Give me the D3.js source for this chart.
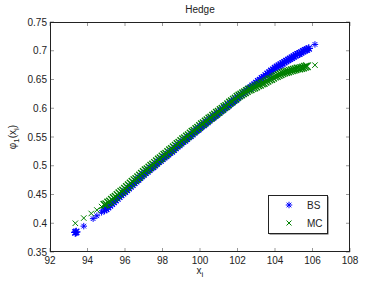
<!DOCTYPE html>
<html><head><meta charset="utf-8">
<script src="https://cdn.jsdelivr.net/npm/d3@7"></script>
<style>body{margin:0;background:#fff}svg{display:block}text{font-family:"Liberation Sans",Arial,Helvetica,sans-serif;fill:#222}</style>
</head><body><svg id="c" width="387" height="284"></svg>
<script>
const xTicks = [92,94,96,98,100,102,104,106,108];
const yTicks = [0.35,0.4,0.45,0.5,0.55,0.6,0.65,0.7,0.75];
const bsX = [93.35,93.4,93.8,94.3,94.5,94.75,94.9,
95.0,95.1,95.2,95.3,95.4,95.5,95.6,95.7,95.8,95.9,
96.0,96.1,96.2,96.3,96.4,96.5,96.6,96.7,96.8,96.9,
97.0,97.1,97.2,97.3,97.4,97.5,97.6,97.7,97.8,97.9,
98.0,98.1,98.2,98.3,98.4,98.5,98.6,98.7,98.8,98.9,
99.0,99.1,99.2,99.3,99.4,99.5,99.6,99.7,99.8,99.9,
100.0,100.1,100.2,100.3,100.4,100.5,100.6,100.7,100.8,100.9,
101.0,101.1,101.2,101.3,101.4,101.5,101.6,101.7,101.8,101.9,
102.0,102.1,102.2,102.3,102.4,102.5,102.6,102.7,102.8,102.9,
103.0,103.1,103.2,103.3,103.4,103.5,103.6,103.7,103.8,103.9,
104.0,104.1,104.2,104.3,104.4,104.5,104.6,104.7,104.8,104.9,
105.0,105.1,105.2,105.3,105.4,105.5,105.6,105.7,105.8,
106.13];
const bsY = [0.384,0.385,0.395,0.408,0.413,0.419,0.423,
0.425,0.428,0.431,0.434,0.437,0.440,0.443,0.446,0.449,0.452,
0.455,0.458,0.461,0.464,0.467,0.470,0.473,0.476,0.479,0.482,
0.485,0.488,0.490,0.493,0.496,0.498,0.501,0.504,0.507,0.509,
0.512,0.515,0.517,0.520,0.523,0.525,0.528,0.531,0.534,0.536,
0.539,0.542,0.544,0.547,0.550,0.552,0.555,0.558,0.561,0.563,
0.566,0.569,0.571,0.574,0.576,0.579,0.582,0.584,0.587,0.589,
0.592,0.595,0.597,0.600,0.602,0.605,0.608,0.610,0.613,0.615,
0.618,0.621,0.623,0.626,0.628,0.631,0.634,0.636,0.639,0.641,
0.644,0.647,0.649,0.652,0.654,0.657,0.660,0.662,0.665,0.667,
0.670,0.672,0.674,0.676,0.678,0.680,0.682,0.684,0.686,0.688,
0.690,0.692,0.694,0.695,0.697,0.699,0.701,0.702,0.704,
0.711];
const mcX = [93.35,93.8,94.2,94.5,94.75,94.9,
95.0,95.1,95.2,95.3,95.4,95.5,95.6,95.7,95.8,95.9,
96.0,96.1,96.2,96.3,96.4,96.5,96.6,96.7,96.8,96.9,
97.0,97.1,97.2,97.3,97.4,97.5,97.6,97.7,97.8,97.9,
98.0,98.1,98.2,98.3,98.4,98.5,98.6,98.7,98.8,98.9,
99.0,99.1,99.2,99.3,99.4,99.5,99.6,99.7,99.8,99.9,
100.0,100.1,100.2,100.3,100.4,100.5,100.6,100.7,100.8,100.9,
101.0,101.1,101.2,101.3,101.4,101.5,101.6,101.7,101.8,101.9,
102.0,102.1,102.2,102.3,102.4,102.5,102.6,102.7,102.8,102.9,
103.0,103.1,103.2,103.3,103.4,103.5,103.6,103.7,103.8,103.9,
104.0,104.1,104.2,104.3,104.4,104.5,104.6,104.7,104.8,104.9,
105.0,105.1,105.2,105.3,105.4,105.5,105.6,105.7,
106.13];
const mcY = [0.400,0.409,0.417,0.423,0.429,0.432,
0.433,0.436,0.438,0.441,0.444,0.446,0.449,0.452,0.455,0.457,
0.460,0.463,0.466,0.469,0.472,0.475,0.477,0.480,0.483,0.486,
0.489,0.492,0.494,0.497,0.500,0.502,0.505,0.508,0.511,0.513,
0.516,0.519,0.521,0.524,0.527,0.529,0.532,0.535,0.538,0.540,
0.543,0.546,0.548,0.551,0.553,0.556,0.559,0.561,0.564,0.566,
0.569,0.572,0.574,0.577,0.579,0.582,0.584,0.587,0.589,0.592,
0.594,0.597,0.599,0.602,0.604,0.607,0.610,0.612,0.615,0.617,
0.620,0.622,0.624,0.626,0.628,0.630,0.632,0.633,0.635,0.636,
0.638,0.640,0.641,0.643,0.644,0.646,0.648,0.650,0.651,0.653,
0.655,0.656,0.658,0.659,0.661,0.662,0.663,0.664,0.665,0.666,
0.667,0.668,0.669,0.669,0.670,0.671,0.672,0.673,
0.675];
const seriesNames = ["BS","MC"];
const seriesColors = ["#0000ff","#008000"];

const svg = d3.select("#c");
const L=50,R=350,T=22,B=252;
const x = d3.scaleLinear().domain([92,108]).range([L,R]);
const y = d3.scaleLinear().domain([0.35,0.75]).range([B,T]);

function star(g,cx,cy,s,col,w){
  const p = d3.path();
  const r=s/2;
  p.moveTo(cx-r,cy);p.lineTo(cx+r,cy);
  p.moveTo(cx,cy-r);p.lineTo(cx,cy+r);
  const d=r*0.72;
  p.moveTo(cx-d,cy-d);p.lineTo(cx+d,cy+d);
  p.moveTo(cx-d,cy+d);p.lineTo(cx+d,cy-d);
  g.append("path").attr("d",p.toString()).attr("stroke",col).attr("stroke-width",w).attr("fill","none");
}
function cross(g,cx,cy,s,col,w){
  const p=d3.path();const r=s/2;
  p.moveTo(cx-r,cy-r);p.lineTo(cx+r,cy+r);
  p.moveTo(cx-r,cy+r);p.lineTo(cx+r,cy-r);
  g.append("path").attr("d",p.toString()).attr("stroke",col).attr("stroke-width",w).attr("fill","none");
}
// marker size: isolated samples drawn smaller, dense ones overlap into a band
function isDense(arr,i){
  const gl = i>0 ? arr[i]-arr[i-1] : 9, gr = i<arr.length-1 ? arr[i+1]-arr[i] : 9;
  return Math.min(gl,gr) < 0.12;
}

const plot = svg.append("g");
bsX.forEach((v,i)=>{const dn=isDense(bsX,i); star(plot,x(v),y(bsY[i]),dn?8.5:6.5,seriesColors[0],dn?1.3:1);});
mcX.forEach((v,i)=>{const dn=isDense(mcX,i); cross(plot,x(v),y(mcY[i]),dn?7.5:5.5,seriesColors[1],dn?1.4:1);});

// axes
const ax = svg.append("g");
const tk = 4;
xTicks.forEach(t=>{
  ax.append("line").attr("x1",x(t)).attr("x2",x(t)).attr("y1",B).attr("y2",B-tk).attr("stroke","#999");
  ax.append("line").attr("x1",x(t)).attr("x2",x(t)).attr("y1",T).attr("y2",T+tk).attr("stroke","#999");
  ax.append("text").attr("x",x(t)).attr("y",B+12).attr("text-anchor","middle").attr("font-size",10).text(d3.format("d")(t));
});
yTicks.forEach(t=>{
  ax.append("line").attr("x1",L).attr("x2",L+tk).attr("y1",y(t)).attr("y2",y(t)).attr("stroke","#999");
  ax.append("line").attr("x1",R).attr("x2",R-tk).attr("y1",y(t)).attr("y2",y(t)).attr("stroke","#999");
  ax.append("text").attr("x",L-3).attr("y",y(t)+3.5).attr("text-anchor","end").attr("font-size",10).text(d3.format("")(t));
});
ax.append("rect").attr("x",L+0.5).attr("y",T+0.5).attr("width",R-L-1).attr("height",B-T-1).attr("fill","none").attr("stroke","#222");

svg.append("text").attr("x",200).attr("y",13).attr("text-anchor","middle").attr("font-size",10).text("Hedge");
const xl = svg.append("text").attr("x",200).attr("y",274).attr("text-anchor","middle").attr("font-size",10);
xl.append("tspan").text("x");
xl.append("tspan").attr("dy",3).attr("font-size",8).text("i");
const yl = svg.append("text").attr("transform","translate(16,137) rotate(-90)").attr("text-anchor","middle").attr("font-size",10);
yl.append("tspan").text("\u03c6");
yl.append("tspan").attr("dy",3).attr("font-size",8).text("1");
yl.append("tspan").attr("dy",-3).text("(x");
yl.append("tspan").attr("dy",3).attr("font-size",8).text("i");
yl.append("tspan").attr("dy",-3).text(")");

// legend
const lg = svg.append("g");
lg.append("rect").attr("x",269.5).attr("y",196.5).attr("width",59).attr("height",38).attr("fill","#555");
lg.append("rect").attr("x",268.5).attr("y",195.5).attr("width",59).attr("height",38).attr("fill","#fff").attr("stroke","#222");
star(lg,289,205,6.5,seriesColors[0],1);
cross(lg,289,223,5,seriesColors[1],1);
lg.append("text").attr("x",307).attr("y",209).attr("font-size",10).text(seriesNames[0]);
lg.append("text").attr("x",307).attr("y",227).attr("font-size",10).text(seriesNames[1]);
</script></body></html>
